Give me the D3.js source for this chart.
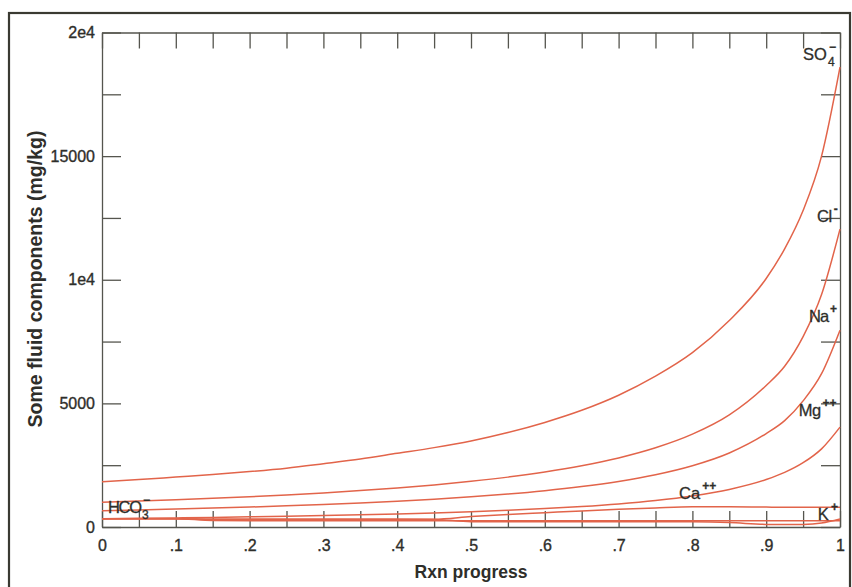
<!DOCTYPE html>
<html><head><meta charset="utf-8">
<script src="https://cdn.jsdelivr.net/npm/d3@7"></script>
<style>
body{margin:0;background:#fff}
svg{display:block}
</style>
</head><body>
<svg id="c" width="852" height="587" font-family="Liberation Sans, Arial, sans-serif"></svg>
<script>
// Reaction progress sample points
const progress = [0,0.05,0.1,0.15,0.2,0.25,0.3,0.35,0.4,0.45,0.5,0.55,0.6,0.65,0.7,0.75,0.8,0.85,0.9,0.925,0.95,0.975,1];
// Fluid components (mg/kg)
const so4  = [1832,1920,2020,2120,2240,2380,2560,2750,2980,3210,3480,3820,4230,4720,5330,6100,7050,8350,10050,11250,12800,15000,18600];
const cl   = [1000,1048,1101,1159,1225,1297,1379,1473,1580,1703,1847,2017,2223,2475,2792,3203,3754,4534,5724,6500,7700,9400,12050];
const na   = [660,690,727,765,808,856,910,972,1043,1124,1219,1331,1467,1634,1843,2114,2478,2993,3778,4300,5100,6200,7960];
const mg   = [336,351,369,388,410,435,462,493,529,571,619,676,745,829,935,1073,1258,1519,1918,2207,2600,3161,4040];
const ca   = [336,336,336,318,314,312,311,311,311,314,420,510,580,650,715,770,815,820,805,800,800,800,800];
const hco3 = [336,336,336,262,256,255,255,255,255,255,255,255,255,255,255,255,255,255,255,255,255,255,255];
const kion = [336,336,336,318,314,312,311,311,311,305,214,212,211,210,210,210,208,180,105,100,105,160,320];

const yTickValues = [0,2500,5000,7500,10000,12500,15000,17500,20000];
const yTickLabels = {0:"0",5000:"5000",10000:"1e4",15000:"15000",20000:"2e4"};
const xTickValues = [0,0.05,0.1,0.15,0.2,0.25,0.3,0.35,0.4,0.45,0.5,0.55,0.6,0.65,0.7,0.75,0.8,0.85,0.9,0.95,1];
const xTickLabels = {"0":"0","0.1":".1","0.2":".2","0.3":".3","0.4":".4","0.5":".5","0.6":".6","0.7":".7","0.8":".8","0.9":".9","1":"1"};

const series = [so4, cl, na, mg, ca, hco3, kion];
const labels = [
  {base:"SO", sub:"4", sup:"\u2212", p:0.950, v:18888, ls:0},
  {base:"Cl", sup:"-", p:0.969, v:12336, ls:-0.5},
  {base:"Na", sup:"+", p:0.958, v:8291, ls:-1},
  {base:"Mg", sup:"++", p:0.944, v:4490, ls:-0.5},
  {base:"Ca", sup:"++", p:0.782, v:1133, ls:0},
  {base:"K", sup:"+", p:0.970, v:283, ls:0},
  {base:"HCO", sub:"3", sup:"\u2212", p:0.008, v:578, ls:-1.2}
];

const FONT = "Liberation Sans, Arial, sans-serif";
const INK = "#2e2e2a";
const svg = d3.select("#c");
const x = d3.scaleLinear().domain([0,1]).range([102,840]);
const y = d3.scaleLinear().domain([0,20000]).range([527,32.5]);

// outer frame
svg.append("rect").attr("x",9).attr("y",13).attr("width",841).attr("height",620)
  .attr("fill","none").attr("stroke","#3a3a32").attr("stroke-width",2.2);

const axisColor = "#55554e";
function styleAxis(g){
  g.attr("font-family", FONT).attr("font-size", 16);
  g.selectAll("path.domain").attr("stroke",axisColor).attr("stroke-width",1.3);
  g.selectAll(".tick line").attr("stroke",axisColor).attr("stroke-width",1.3);
  g.selectAll(".tick text").attr("fill",INK).attr("font-size",16).attr("font-family",FONT)
    .attr("stroke",INK).attr("stroke-width",0.35);
}

const fmtX = d => { const k = String(+d.toFixed(2)); return xTickLabels[k] !== undefined ? xTickLabels[k] : ""; };

svg.append("g").attr("transform","translate(0,527)")
  .call(d3.axisBottom(x).tickValues(xTickValues).tickSizeInner(-16).tickSizeOuter(0).tickPadding(13).tickFormat(fmtX))
  .call(styleAxis);
svg.append("g").attr("transform","translate(0,32.5)")
  .call(d3.axisTop(x).tickValues(xTickValues).tickSizeInner(-16).tickSizeOuter(0).tickFormat(""))
  .call(styleAxis);
svg.append("g").attr("transform","translate(102,0)")
  .call(d3.axisLeft(y).tickValues(yTickValues).tickSizeInner(-19).tickSizeOuter(0).tickPadding(7)
    .tickFormat(d => yTickLabels[d] || ""))
  .call(styleAxis);
svg.append("g").attr("transform","translate(840,0)")
  .call(d3.axisRight(y).tickValues(yTickValues).tickSizeInner(-19).tickSizeOuter(0).tickFormat(""))
  .call(styleAxis);

// lines
const line = d3.line().x((d,i)=>x(progress[i])).y(d=>y(d)).curve(d3.curveMonotoneX);
svg.append("g").selectAll("path").data(series).join("path")
  .attr("d", line).attr("fill","none").attr("stroke","#e2644a").attr("stroke-width",1.5);

// labels
const lg = svg.append("g").attr("font-family",FONT).attr("fill",INK).attr("stroke",INK).attr("stroke-width",0.3);
labels.forEach(l => {
  const px = x(l.p), py = y(l.v);
  const t = lg.append("text").attr("x",px).attr("y",py).attr("font-size",16.5)
    .attr("letter-spacing", l.ls).text(l.base);
  const w = t.node().getComputedTextLength();
  if (l.sub) lg.append("text").attr("x",px+w+1).attr("y",py+6).attr("font-size",12).text(l.sub);
  if (l.sup) lg.append("text").attr("x",px+w+2).attr("y",py-9).attr("font-size",12).attr("font-weight","bold").text(l.sup);
});

// axis titles
svg.append("text").attr("x",471).attr("y",578).attr("text-anchor","middle")
  .attr("font-family",FONT).attr("fill",INK)
  .attr("font-size",17.5).attr("font-weight","bold").text("Rxn progress");
svg.append("text").attr("transform","translate(42,279) rotate(-90)").attr("text-anchor","middle")
  .attr("font-family",FONT).attr("fill",INK)
  .attr("font-size",19.5).attr("font-weight","bold").text("Some fluid components (mg/kg)");
</script>
</body></html>
